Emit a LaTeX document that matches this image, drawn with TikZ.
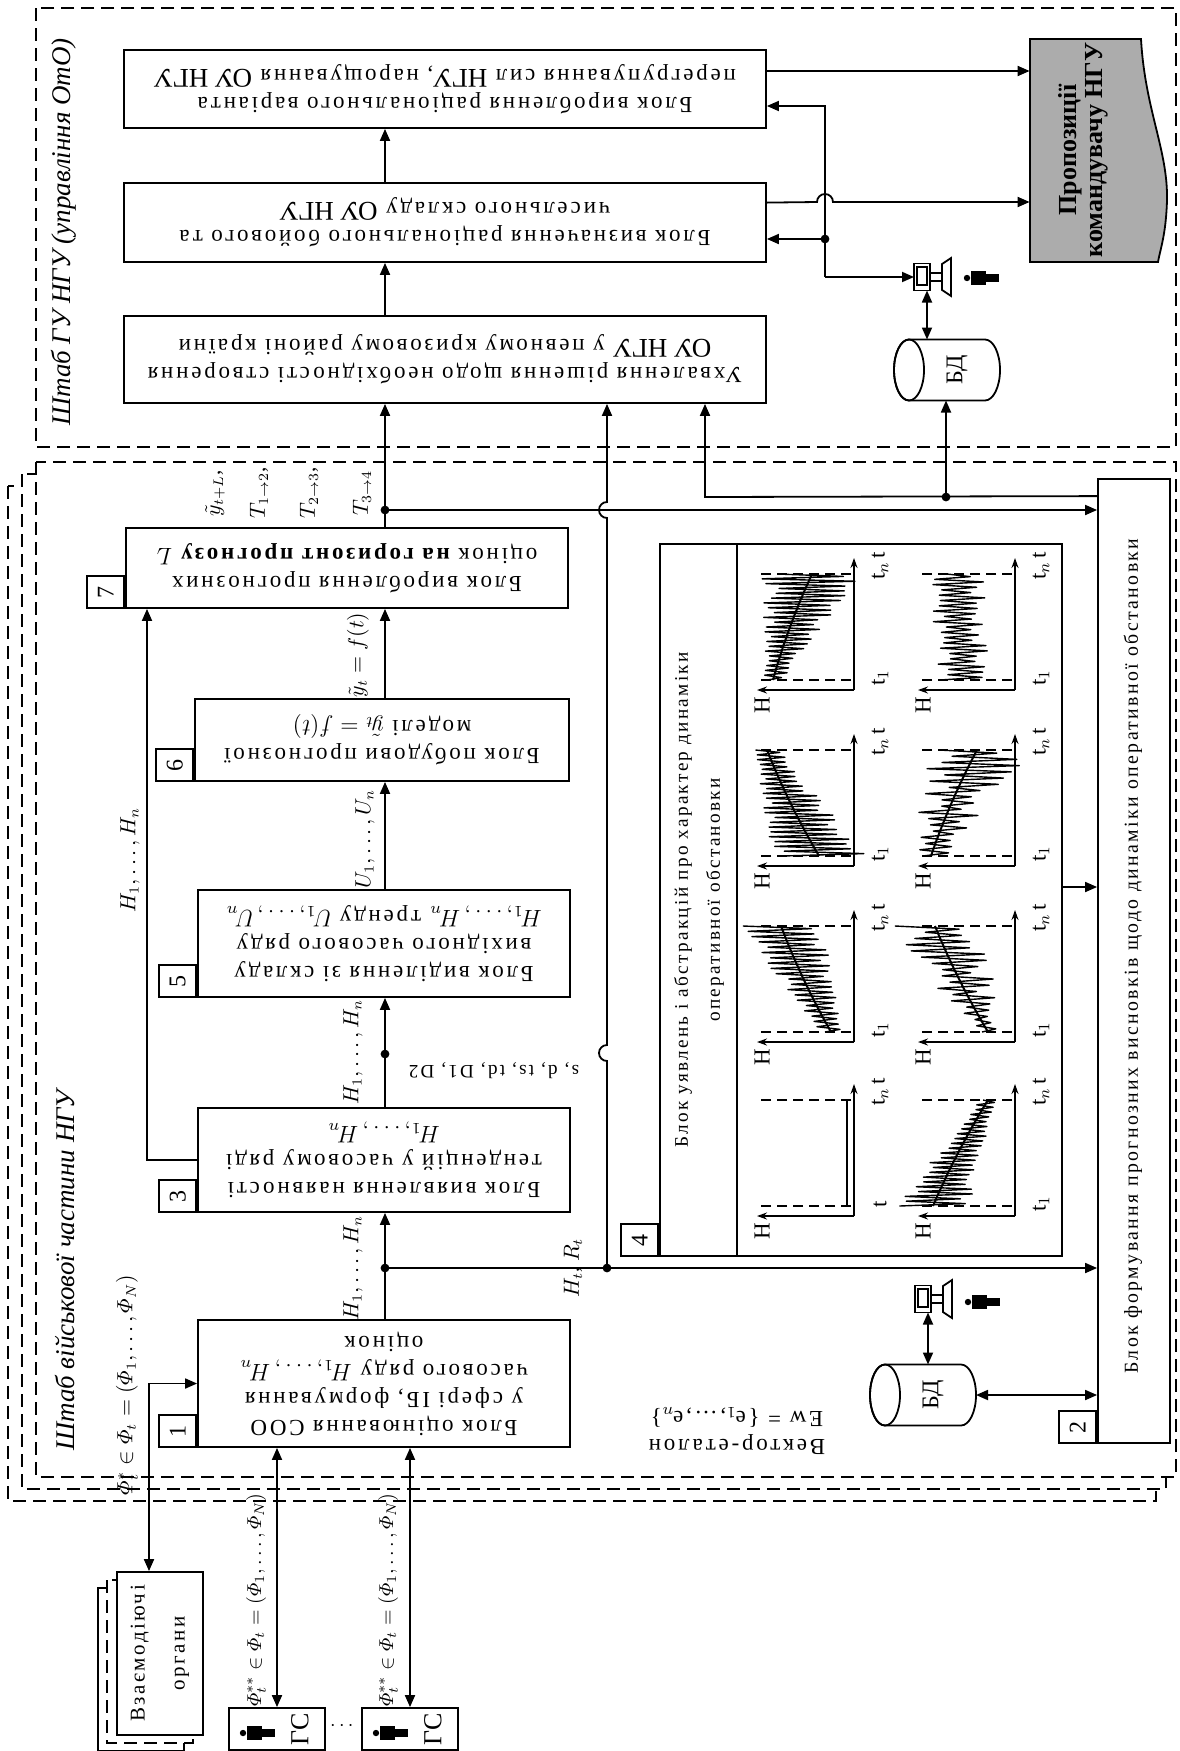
\documentclass[tikz,border=0pt]{standalone}
\usepackage{amsmath}
\usepackage{fontspec}
\setmainfont{Liberation Serif}
\newfontfamily\spfont[LetterSpace=12]{Liberation Serif}
\usetikzlibrary{arrows.meta}

\newcommand{\bg}[1]{{\rmfamily\fontsize{13.5}{14}\selectfont #1}}
% zigzag series: ox oy H0 H1 A0 A1 N irregularity
\newcommand{\zig}[8]{%
  \pgfmathtruncatemacro\zns{#7+1}%
  \draw[line width=0.7pt, line join=round] plot[domain=0:#7, samples=\zns]
    ({#1-(#3+(#4-#3)*\x/#7)-(#5+(#6-#5)*\x/#7)*cos(180*\x)*(1-#8+2*#8*rnd)}, {#2-10-106*\x/#7});}
% trend line: ox oy H0 H1
\newcommand{\trend}[4]{%
  \draw[line width=1pt] plot[domain=0:1, samples=15, smooth]
    ({#1-(#3+(#4-#3)*\x)-10*\x*(1-\x)}, {#2-10-106*\x});}

\tikzset{
  ln/.style={line width=0.9pt},
  arr/.style={ln, -{Triangle[length=6pt, width=5pt]}},
  arr2/.style={ln, {Triangle[length=6pt, width=5pt]}-{Triangle[length=6pt, width=5pt]}},
  axis/.style={line width=0.8pt, -{Stealth[length=5pt, width=3.5pt]}},
  dsh/.style={line width=0.7pt, dash pattern=on 6.5pt off 3.5pt},
  gdsh/.style={line width=0.6pt, dash pattern=on 5pt off 3pt},
  blk/.style={draw, ln, fill=white, inner sep=0pt},
  num/.style={draw, ln, fill=white, minimum width=18.5pt, minimum height=16pt, inner sep=0pt, font=\fontsize{12}{12}\selectfont},
  txt/.style={align=center, inner sep=0pt, font=\spfont\fontsize{11.5}{14}\selectfont},
  lbl/.style={inner sep=0pt, font=\fontsize{10.5}{12}\selectfont},
  glbl/.style={inner sep=0pt, rotate=90, font=\spfont\fontsize{11.5}{11}\selectfont},
  pc/.pic={
    \draw[ln, fill=white] (-8,-13.5) rectangle (8,13.5);
    \draw[line width=0.6pt] (-5,-10) rectangle (5,8);
    \draw[ln] (8,-4) -- (20,-4) (8,4) -- (20,4);
    \draw[ln, fill=white] (20,-13) -- (29,-19) -- (29,19) -- (20,13) -- cycle;
    \coordinate (-w) at (-8,0);
    \coordinate (-s) at (5,13.5);
  },
  man/.pic={
    \fill (-15,0) circle (1.6pt);
    \fill (-11,-7) rectangle (4,7);
    \fill (4,-4) rectangle (17,4);
  },
  db/.pic={
    \draw[ln, fill=white] (-38,-30.5) -- (38,-30.5)
      arc[start angle=-90, end angle=90, x radius=15, y radius=30.5]
      -- (-38,30.5) arc[start angle=90, end angle=270, x radius=15, y radius=30.5] -- cycle;
    \draw[ln] (-38,0) ellipse [x radius=15, y radius=30.5];
    \node[rotate=90, font=\fontsize{12}{12}\selectfont] (-t) at (10,0) {БД};
    \coordinate (-n) at (-20,-30.5);
    \coordinate (-s) at (0,30.5);
    \coordinate (-e) at (53,0);
  }
}

\begin{document}
\begin{tikzpicture}[x=0.5pt, y=-0.5pt]
\useasboundingbox (0,0) rectangle (1179,1751);
\pgfmathsetseed{7}

% staff areas
\draw[dsh] (36,8) rectangle (1176,447);
\draw[dsh, fill=white] (8,486) rectangle (1156,1501);
\draw[dsh, fill=white] (22,474) rectangle (1166,1489);
\draw[dsh, fill=white] (36,462) rectangle (1176,1477);
\node[rotate=90, anchor=west, font=\itshape\fontsize{13.5}{14}\selectfont] (shtab1) at (64,433) {Штаб ГУ НГУ (управління ОтО)};
\node[rotate=90, anchor=west, font=\itshape\fontsize{13.5}{14}\selectfont] (shtab2) at (65,1458) {Штаб військової частини НГУ};

% upper blocks
\node[blk, minimum width=321pt, minimum height=39pt] (A) at (445,89) {};
\node[txt, rotate=180] (tA) at (A) {Блок вироблення раціонального варіанта\\перегрупування сил \bg{НГУ}, нарощування \bg{ОУ НГУ}};
\node[blk, minimum width=321pt, minimum height=39.5pt] (B) at (445,222.5) {};
\node[txt, rotate=180] (tB) at (B) {Блок визначення раціонального бойового та\\чисельного складу \bg{ОУ НГУ}};
\node[blk, minimum width=321pt, minimum height=43.5pt] (C) at (445,359.5) {};
\node[txt, rotate=180] (tC) at (C) {Ухвалення рішення щодо необхідності створення\\\bg{ОУ НГУ} у певному кризовому районі країни};

\filldraw[ln, fill=gray!65] (1030,39) -- (1141,39) .. controls (1145,110) and (1168,150) .. (1167,200)
  .. controls (1166,235) and (1160,250) .. (1158,262) -- (1030,262) -- cycle;
\node[minimum width=55.5pt, minimum height=111.5pt, inner sep=0pt] (doc) at (1085.5,150.5) {};
\node[rotate=90, align=center, font=\bfseries\fontsize{13}{13}\selectfont] (tdoc) at (1083,150) {Пропозиції\\командувачу НГУ};

\pic (pc1) at (922,277) {pc};
\pic at (982,278) {man};
\pic (db1) at (947,370) {db};

% main column
\node[blk, minimum width=221pt, minimum height=40pt] (b7) at (347,568) {};
\node[txt, rotate=180] (t7) at (b7) {Блок вироблення прогнозних\\оцінок {\bfseries на горизонт прогнозу} $L$};
\node[num, anchor=south east] (n7) at (b7.south west) {\rotatebox{90}{7}};
\node[blk, minimum width=187pt, minimum height=41pt] (b6) at (382,740) {};
\node[txt, rotate=180] (t6) at (b6) {Блок побудови прогнозної\\моделі $\tilde{y}_t = f(t)$};
\node[num, anchor=south east] (n6) at (b6.south west) {\rotatebox{90}{6}};
\node[blk, minimum width=186pt, minimum height=53.5pt] (b5) at (384,943.5) {};
\node[txt, rotate=180] (t5) at (b5) {Блок виділення зі складу\\вихідного часового ряду\\$H_1,\ldots,H_n$ тренду $U_1,\ldots,U_n$};
\node[num, anchor=south east] (n5) at (b5.south west) {\rotatebox{90}{5}};
\node[blk, minimum width=186pt, minimum height=52pt] (b3) at (384,1160) {};
\node[txt, rotate=180] (t3) at (b3) {Блок виявлення наявності\\тенденцій у часовому ряді\\$H_1,\ldots,H_n$};
\node[num, anchor=south east] (n3) at (b3.south west) {\rotatebox{90}{3}};
\node[blk, minimum width=186pt, minimum height=63.5pt] (b1) at (384,1383.5) {};
\node[txt, rotate=180] (t1) at (b1) {Блок оцінювання СОО\\у сфері ІБ, формування\\часового ряду $H_1,\ldots,H_n$\\оцінок};
\node[num, anchor=south east] (n1) at (b1.south west) {\rotatebox{90}{1}};

% block 4 with graphs
\node[blk, minimum width=201pt, minimum height=356pt] (b4) at (861,900) {};
\coordinate (b4d) at (737,900);
\draw[ln] (b4d |- b4.north) -- (b4d |- b4.south);
\node[rotate=90, align=center, inner sep=0pt, font=\spfont\fontsize{9.6}{16}\selectfont] (t4) at (699,900) {Блок уявлень і абстракцій про характер динаміки\\оперативної обстановки};
\node[num, anchor=south east] (n4) at (b4.south west) {\rotatebox{90}{4}};

\foreach \gx/\gy/\gn/\gl in {854/690/a/t$_1$, 1015/690/b/t$_1$, 854/866/c/t$_1$, 1015/866/d/t$_1$,
                             854/1042/e/t$_1$, 1015/1042/f/t$_1$, 854/1216/g/t, 1015/1216/h/t$_1$}{
  \draw[axis] (\gx,\gy) -- (\gx,\gy-132);
  \draw[axis] (\gx,\gy) -- (\gx-97,\gy);
  \draw[gdsh] (\gx-3,\gy-10) -- (\gx-95,\gy-10);
  \draw[gdsh] (\gx-3,\gy-116) -- (\gx-95,\gy-116);
  \node[glbl] (gh-\gn) at (\gx-92,\gy+15) {H};
  \node[glbl] (gt-\gn) at (\gx+26,\gy-124) {t$_n$\,t};
  \node[glbl] (g1-\gn) at (\gx+26,\gy-12) {\gl};
}
\zig{854}{690}{81}{42}{7}{40}{44}{0.25}
\trend{854}{690}{81}{42}
\zig{1015}{690}{55}{55}{18}{20}{40}{0.5}
\zig{854}{866}{35}{87}{38}{10}{44}{0.25}
\trend{854}{866}{35}{87}
\zig{1015}{866}{84}{38}{10}{35}{34}{0.6}
\trend{1015}{866}{84}{38}
\zig{854}{1042}{23}{73}{8}{36}{40}{0.25}
\trend{854}{1042}{23}{73}
\zig{1015}{1042}{27}{80}{10}{30}{34}{0.6}
\trend{1015}{1042}{27}{80}
\draw[line width=0.8pt] (847,1206) -- (847,1100);
\zig{1015}{1216}{82}{27}{32}{6}{44}{0.25}
\trend{1015}{1216}{82}{27}

% block 2
\node[blk, minimum width=36pt, minimum height=482pt] (b2) at (1134,961) {};
\node[rotate=90, inner sep=0pt, font=\spfont\fontsize{9.9}{12}\selectfont] (t2) at (1133,956) {Блок формування прогнозних висновків щодо динаміки оперативної обстановки};
\node[num, anchor=south east] (n2) at (b2.south west) {\rotatebox{90}{2}};

\pic (pc2) at (923,1299) {pc};
\pic at (983,1302) {man};
\pic (db2) at (923,1395) {db};
\node[rotate=180, align=center, inner sep=0pt, font=\spfont\fontsize{11.5}{14}\selectfont] (vect) at (737,1431) {Вектор-еталон\\Ew = \{e$_1$,\ldots,e$_n$\}};

% outside bodies
\draw[ln, fill=white] (98,1588) rectangle (184,1751);
\draw[dsh, fill=white] (107,1580) rectangle (193,1743);
\node[blk, minimum width=43pt, minimum height=81.5pt] (vo) at (160,1653.5) {};
\node[rotate=90, align=center, inner sep=0pt, font=\spfont\fontsize{10.5}{20}\selectfont] (tvo) at (vo) {Взаємодіючі\\органи};
\node[blk, minimum width=48pt, minimum height=21pt] (gs1) at (277,1729) {};
\node[blk, minimum width=48pt, minimum height=21pt] (gs2) at (410,1729) {};
\node[rotate=90, font=\fontsize{13}{13}\selectfont] (tgs1) at (300,1729) {ГС};
\node[rotate=90, font=\fontsize{13}{13}\selectfont] (tgs2) at (433,1729) {ГС};
\pic at (258,1733) {man};
\pic at (391,1733) {man};
\node (gsdots) at (343.5,1726) {$\cdots$};

% junctions
\coordinate (mx) at (385,0);
\coordinate (j1) at (385,1268);
\coordinate (j2) at (385,1054);
\coordinate (j3) at (385,510);
\coordinate (j4) at (607,1268);
\coordinate (j5) at (946,497);
\coordinate (j6) at (825,239);
\coordinate (vt) at (825,106);
\coordinate (vb) at (825,277);
\coordinate (cx2) at (705,497);
\coordinate (fbx) at (147,0);

% connectors, main column
\draw[arr] (b1.north -| mx) -- (b3.south -| mx);
\draw[arr] (b3.north -| mx) -- (b5.south -| mx);
\draw[arr] (b5.north -| mx) -- (b6.south -| mx);
\draw[arr] (b6.north -| mx) -- (b7.south -| mx);
\draw[arr] (b7.north -| mx) -- (C.south -| mx);
\draw[arr] (b3.west) -| (b7.south -| fbx);
\draw[arr] (j1) -- (j4) -- (j4 -| b2.west);
\draw[arr] (j3) -- (j3 -| b2.west);
\draw[arr] (j4) -- (607,1061) arc[start angle=90, end angle=270, radius=8]
  -- (607,518) arc[start angle=90, end angle=270, radius=8] -- (C.south -| j4);
\draw[arr] ([yshift=-9pt]b2.north west) -- (cx2) -- (C.south -| cx2);
\draw[arr] (j5) -- (j5 |- db1-s);
\draw[arr] ([yshift=6.5pt]b4.east) -- ([yshift=6.5pt]b4.east -| b2.west);
\draw[arr2] (db2-e) -- (db2-e -| b2.west);
\draw[arr2] (pc2-s) -- (pc2-s |- db2-n);

% connectors, upper area
\draw[arr] (C.north -| mx) -- (B.south -| mx);
\draw[arr] (B.north -| mx) -- (A.south -| mx);
\draw[arr] ([yshift=9pt]A.east) -- ([yshift=9pt]A.east -| doc.west);
\draw[arr] ([yshift=-10.25pt]B.north east) -- (817,202) arc[start angle=180, end angle=360, radius=8] -- (doc.west |- 0,202);
\draw[arr] (vb) -- (vt) -- (vt -| A.east);
\draw[arr] (j6) -- (j6 -| B.east);
\draw[arr] (vb) -- (pc1-w);
\draw[arr2] (pc1-s) -- (pc1-s |- db1-n);

% connectors, outside
\draw[arr2] ([xshift=-5.5pt]vo.north) |- (b1.west);
\draw[arr2] (gs1.north) -- (gs1.north |- b1.south);
\draw[arr2] (gs2.north) -- (gs2.north |- b1.south);

% junction dots
\foreach \j in {j1,j2,j3,j4,j5,j6}{\fill (\j) circle (2.2pt);}

% connector labels
\node[lbl, rotate=90] (lh1) at (353,1268) {$H_1,\ldots,H_n$};
\node[lbl, rotate=90] (lh2) at (353,1052) {$H_1,\ldots,H_n$};
\node[lbl, rotate=90] (lu) at (365,839) {$U_1,\ldots,U_n$};
\node[lbl, rotate=90] (ly) at (358,655) {$\tilde{y}_t = f(t)$};
\node[lbl, rotate=90] (lfb) at (130,860) {$H_1,\ldots,H_n$};
\node[lbl, rotate=90] (lht) at (573,1268) {$H_t$,\ $R_t$};
\node[lbl, rotate=90] (lyl) at (215,493) {$\tilde{y}_{t+L}$,};
\node[lbl, rotate=90] (lt12) at (259,493) {$T_{1\to2}$,};
\node[lbl, rotate=90] (lt23) at (309,493) {$T_{2\to3}$,};
\node[lbl, rotate=90] (lt34) at (362,493) {$T_{3\to4}$};
\node[lbl, rotate=180, font=\spfont\fontsize{9.5}{10}\selectfont] (lsd) at (494,1071) {s, d, ts, td, D1, D2};
\node[lbl, rotate=90] (lphi1) at (127,1385) {$\varPhi^{*}_{t}\in\varPhi_t=(\varPhi_1,\ldots,\varPhi_N)$};
\node[lbl, rotate=90, font=\fontsize{10}{12}\selectfont] (lphi2) at (256,1600) {$\varPhi^{**}_{t}\in\varPhi_t=(\varPhi_1,\ldots,\varPhi_N)$};
\node[lbl, rotate=90, font=\fontsize{10}{12}\selectfont] (lphi3) at (388,1600) {$\varPhi^{**}_{t}\in\varPhi_t=(\varPhi_1,\ldots,\varPhi_N)$};
\end{tikzpicture}
\end{document}
